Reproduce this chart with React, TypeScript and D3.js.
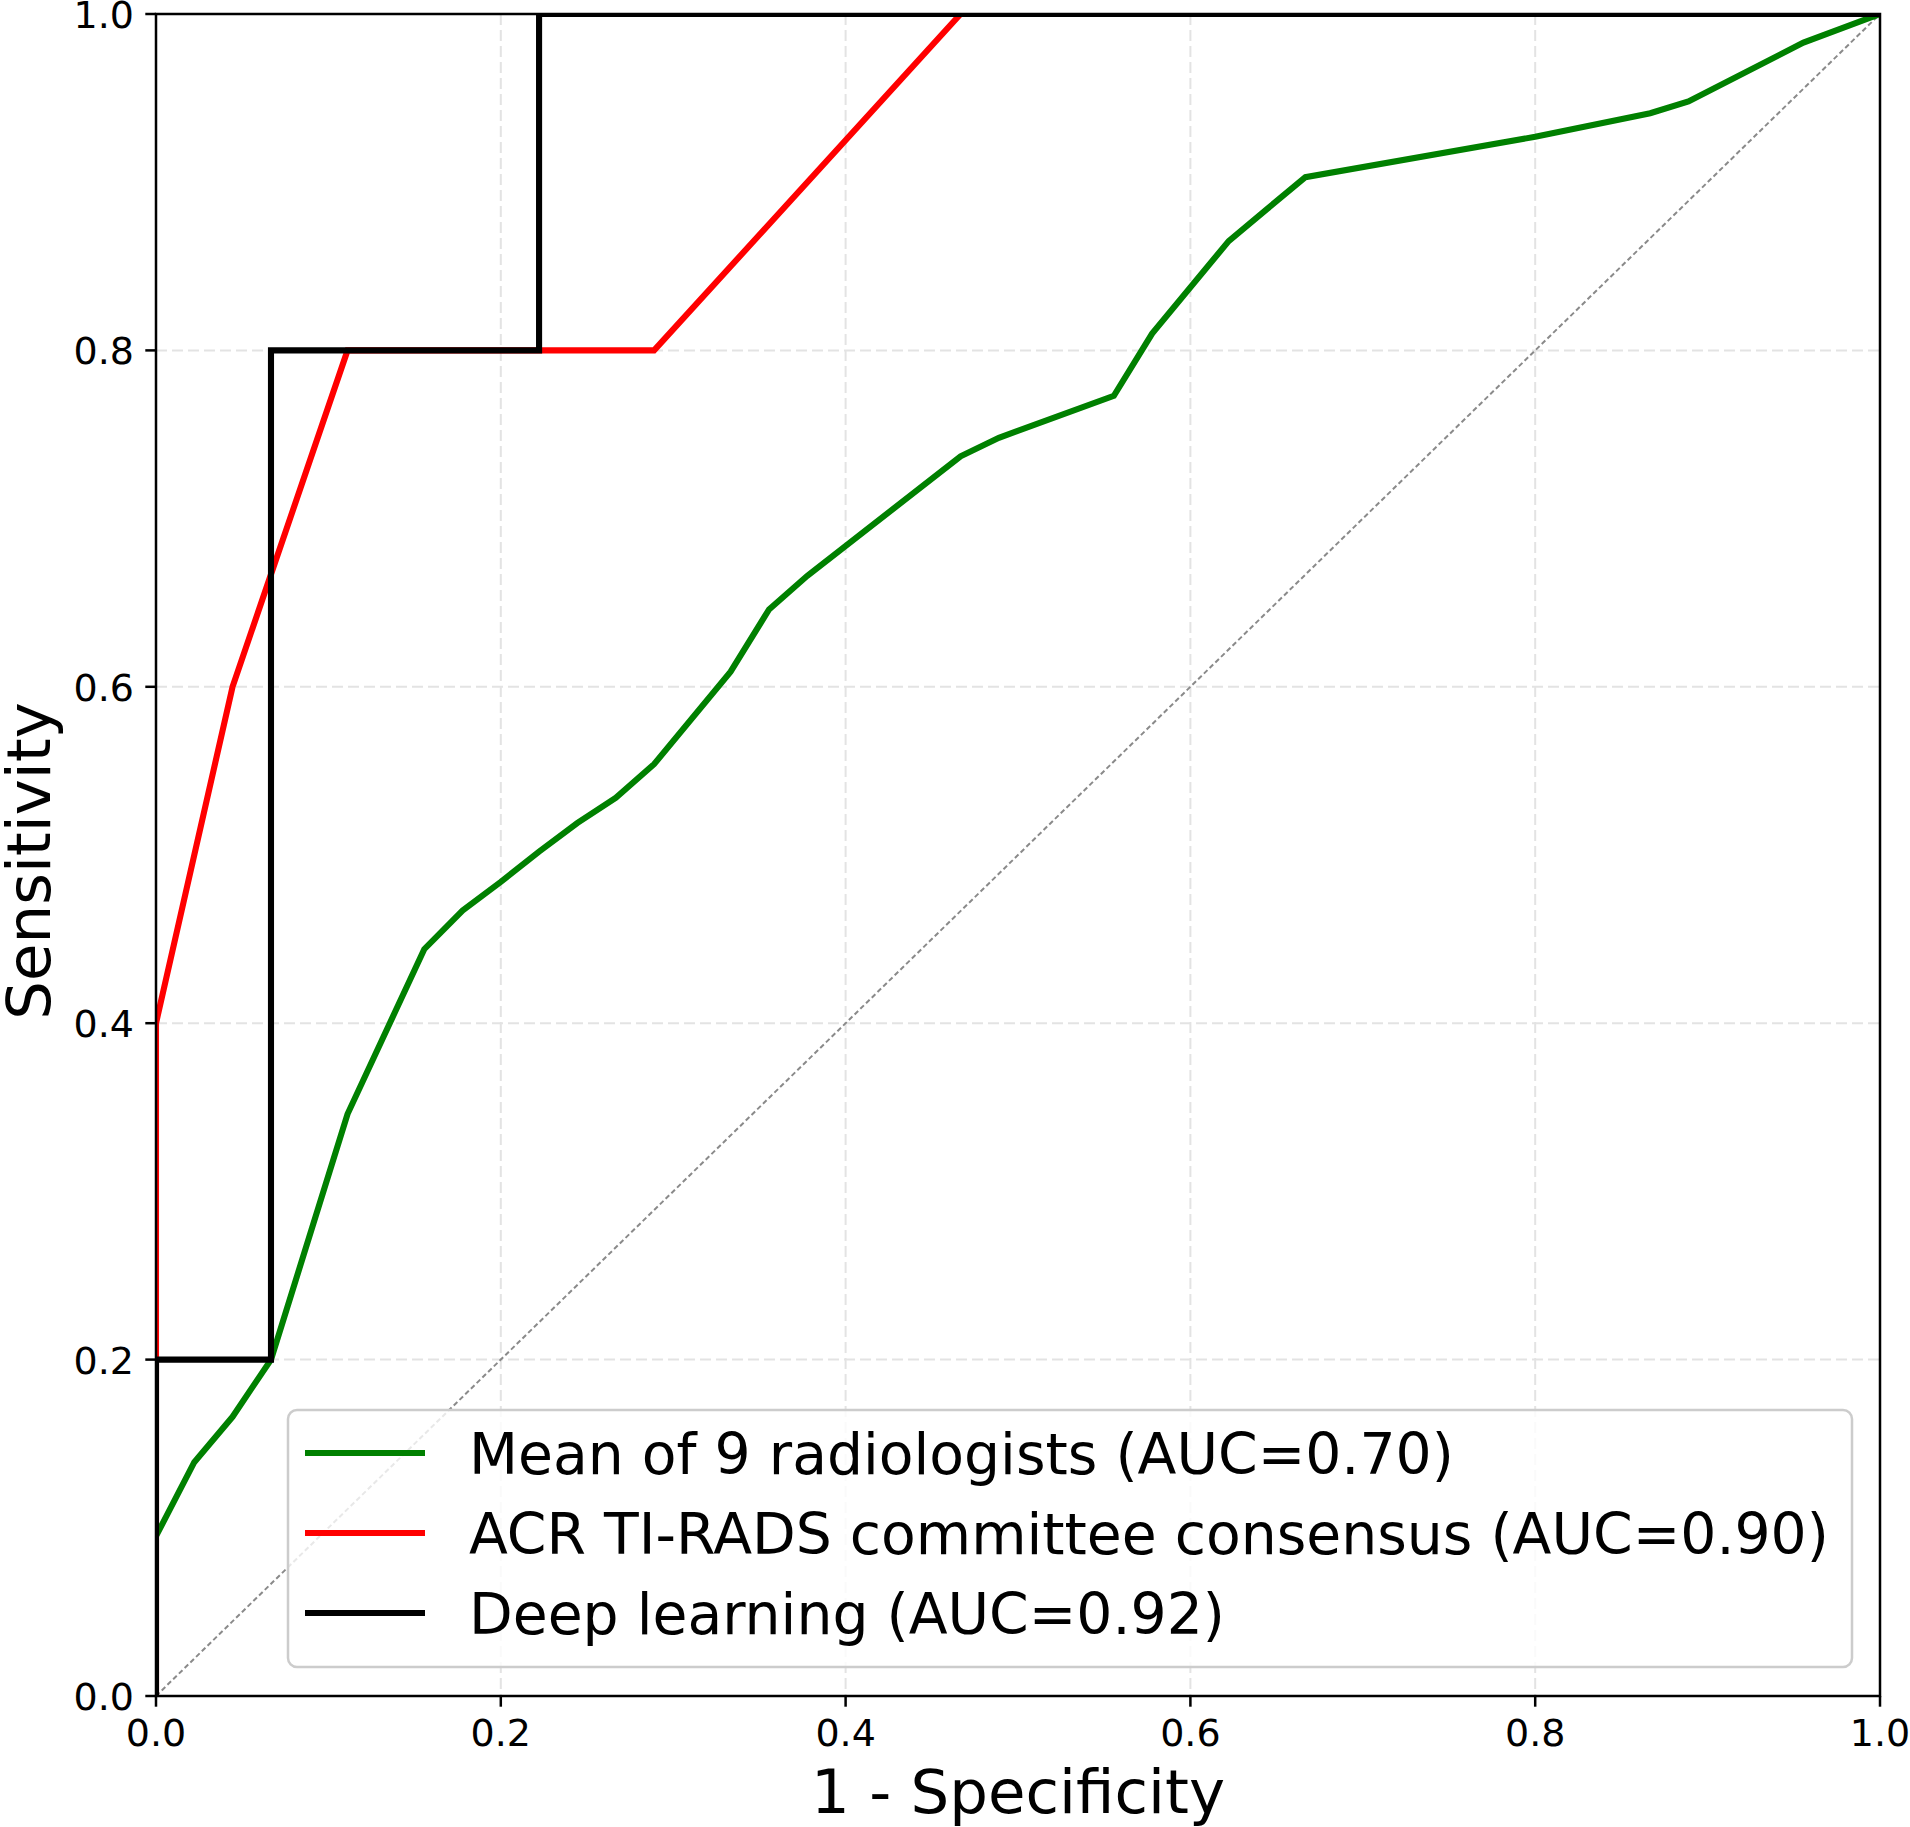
import React from "react";
import * as d3 from "d3";

const W = 1910;
const H = 1827;

// Series data: [1 - specificity, sensitivity]
const radiologistsMean: [number, number][] = [
  [0, 0.095], [0.0222, 0.139], [0.0444, 0.166], [0.0667, 0.2], [0.1111, 0.346],
  [0.1556, 0.444], [0.1778, 0.467], [0.2, 0.484], [0.2222, 0.502], [0.2444, 0.519],
  [0.2667, 0.534], [0.2889, 0.554], [0.3333, 0.609], [0.3556, 0.646], [0.3778, 0.666],
  [0.4667, 0.737], [0.4889, 0.748], [0.5556, 0.773], [0.5778, 0.81], [0.6222, 0.865],
  [0.6444, 0.884], [0.6667, 0.903], [0.8, 0.927], [0.8667, 0.941], [0.8889, 0.948],
  [0.9556, 0.983], [1, 1],
];
const tiradsConsensus: [number, number][] = [
  [0, 0], [0, 0.4], [0.0444, 0.6], [0.1111, 0.8], [0.2889, 0.8], [0.4667, 1.0], [1, 1],
];
const deepLearning: [number, number][] = [
  [0, 0], [0, 0.2], [0.0667, 0.2], [0.0667, 0.8], [0.2222, 0.8], [0.2222, 1.0], [1, 1],
];
const chance: [number, number][] = [[0, 0], [1, 1]];

const xTicks = [0, 0.2, 0.4, 0.6, 0.8, 1.0];
const yTicks = [0, 0.2, 0.4, 0.6, 0.8, 1.0];

const seriesLabels = [
  "Mean of 9 radiologists (AUC=0.70)",
  "ACR TI-RADS committee consensus (AUC=0.90)",
  "Deep learning (AUC=0.92)",
];
const seriesColors = ["#008000", "#ff0000", "#000000"];

const FONT = "DejaVu Sans";

export default function App() {
  const left = 156, right = 1880, top = 14, bottom = 1696;
  const x = d3.scaleLinear().domain([0, 1]).range([left, right]);
  const y = d3.scaleLinear().domain([0, 1]).range([bottom, top]);
  const line = d3
    .line<[number, number]>()
    .x((d) => x(d[0]))
    .y((d) => y(d[1]));

  const series = [radiologistsMean, tiradsConsensus, deepLearning];
  const tickLen = 10.7;
  const spine = "#000000";

  const legX = 288, legY = 1410, legW = 1564, legH = 257;
  const legRowY = [1453, 1533, 1613];

  return (
    <svg
      width={W}
      height={H}
      style={{ position: "absolute", left: 0, top: 0, background: "#fff" }}
      fontFamily={FONT}
    >
      <defs>
        <clipPath id="plotclip">
          <rect x={left} y={top} width={right - left} height={bottom - top} />
        </clipPath>
      </defs>
      <rect x={0} y={0} width={W} height={H} fill="#fff" />
      {/* grid */}
      <g stroke="#e3e3e3" strokeWidth={2} strokeDasharray="11,5">
        {xTicks.map((t) => (
          <line key={"gx" + t} x1={x(t)} x2={x(t)} y1={top} y2={bottom} />
        ))}
        {yTicks.map((t) => (
          <line key={"gy" + t} x1={left} x2={right} y1={y(t)} y2={y(t)} />
        ))}
      </g>
      {/* chance diagonal */}
      <path
        d={line(chance) || ""}
        fill="none"
        stroke="#8a8a8a"
        strokeWidth={2}
        strokeDasharray="5,3"
        clipPath="url(#plotclip)"
      />
      {/* ROC curves */}
      <g clipPath="url(#plotclip)">
        {series.map((s, i) => (
          <path
            key={i}
            d={line(s) || ""}
            fill="none"
            stroke={seriesColors[i]}
            strokeWidth={6.1}
            strokeLinejoin="miter"
            strokeLinecap="butt"
          />
        ))}
      </g>
      {/* spines */}
      <rect
        x={left}
        y={top}
        width={right - left}
        height={bottom - top}
        fill="none"
        stroke={spine}
        strokeWidth={2.5}
      />
      {/* ticks */}
      <g stroke={spine} strokeWidth={2.5}>
        {xTicks.map((t) => (
          <line key={"tx" + t} x1={x(t)} x2={x(t)} y1={bottom} y2={bottom + tickLen} />
        ))}
        {yTicks.map((t) => (
          <line key={"ty" + t} x1={left - tickLen} x2={left} y1={y(t)} y2={y(t)} />
        ))}
      </g>
      <g fontSize={38} fill="#000">
        {xTicks.map((t) => (
          <text key={"lx" + t} x={x(t)} y={1746} textAnchor="middle">
            {t.toFixed(1)}
          </text>
        ))}
        {yTicks.map((t) => (
          <text key={"ly" + t} x={134} y={y(t) + 14} textAnchor="end">
            {t.toFixed(1)}
          </text>
        ))}
      </g>
      {/* axis labels */}
      <text x={(left + right) / 2} y={1813} fontSize={61} textAnchor="middle" fill="#000">
        1 - Specificity
      </text>
      <text
        transform={`translate(50,861) rotate(-90)`}
        fontSize={61}
        textAnchor="middle"
        fill="#000"
      >
        Sensitivity
      </text>
      {/* legend */}
      <rect
        x={legX}
        y={legY}
        width={legW}
        height={legH}
        rx={9}
        ry={9}
        fill="#fff"
        fillOpacity={0.8}
        stroke="#cccccc"
        strokeWidth={2.5}
      />
      {seriesLabels.map((lab, i) => (
        <g key={lab}>
          <line
            x1={305}
            x2={425}
            y1={legRowY[i]}
            y2={legRowY[i]}
            stroke={seriesColors[i]}
            strokeWidth={6.1}
          />
          <text x={469} y={legRowY[i] + 21} fontSize={56.8} fill="#000">
            {lab}
          </text>
        </g>
      ))}
    </svg>
  );
}
